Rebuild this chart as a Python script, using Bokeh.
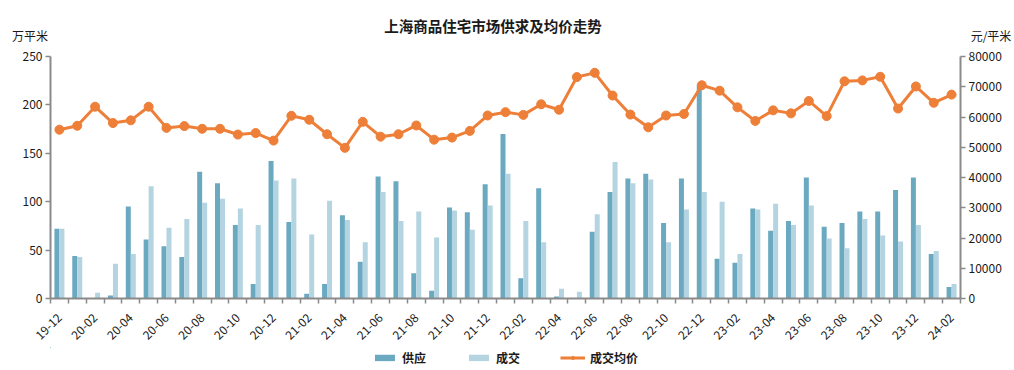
from bokeh.plotting import figure
from bokeh.models import (Range1d, LinearAxis, FixedTicker, Legend, LegendItem,
                          ColumnDataSource, Div)
from bokeh.transform import dodge
from bokeh.layouts import column
from bokeh.embed import file_html
from bokeh.resources import INLINE

months = ["19-12", "20-01", "20-02", "20-03", "20-04", "20-05", "20-06", "20-07", "20-08",
          "20-09", "20-10", "20-11", "20-12", "21-01", "21-02", "21-03", "21-04", "21-05",
          "21-06", "21-07", "21-08", "21-09", "21-10", "21-11", "21-12", "22-01", "22-02",
          "22-03", "22-04", "22-05", "22-06", "22-07", "22-08", "22-09", "22-10", "22-11",
          "22-12", "23-01", "23-02", "23-03", "23-04", "23-05", "23-06", "23-07", "23-08",
          "23-09", "23-10", "23-11", "23-12", "24-01", "24-02"]
supply = [72, 44, 0, 3, 95, 61, 54, 43, 131, 119, 76, 15, 142, 79, 5, 15, 86, 38, 126, 121,
          26, 8, 94, 89, 118, 170, 21, 114, 2, 0, 69, 110, 124, 129, 78, 124, 220, 41, 37, 93,
          70, 80, 125, 74, 78, 90, 90, 112, 125, 46, 12]
deal = [72, 43, 6, 36, 46, 116, 73, 82, 99, 103, 93, 76, 122, 124, 66, 101, 81, 58, 110, 80,
        90, 63, 91, 71, 96, 129, 80, 58, 10, 7, 87, 141, 119, 123, 58, 92, 110, 100, 46, 92,
        98, 76, 96, 62, 52, 82, 65, 59, 76, 49, 15]
price = [55800, 57100, 63400, 58000, 58900, 63400, 56400, 57000, 56100, 56100, 54200, 54700,
         52200, 60400, 59100, 54300, 49800, 58400, 53500, 54300, 57200, 52500, 53200, 55400,
         60500, 61600, 60700, 64200, 62400, 73200, 74600, 67100, 60800, 56600, 60500, 61000,
         70500, 68700, 63200, 58700, 62200, 61200, 65300, 60300, 71800, 72100, 73300, 62800,
         70100, 64700, 67400]
left_ticks = [0, 50, 100, 150, 200, 250]
right_ticks = [0, 10000, 20000, 30000, 40000, 50000, 60000, 70000, 80000]
title_text = "上海商品住宅市场供求及均价走势"
left_name = "万平米"
right_name = "元/平米"
series_names = ["供应", "成交", "成交均价"]

FONT = "Noto Sans CJK SC"
C_SUP = "#6BA9C1"
C_DEAL = "#B3D4E0"
C_PRICE = "#EE7F38"
AXIS_C = "#8A8A8A"
TXT = "#1A1A1A"

# ---------- header (title and axis names) ----------
HEAD_H = 46
def span(txt, cx, cy, size, weight):
    return ('<span style="position:absolute;left:%dpx;top:%dpx;transform:translate(-50%%,-50%%);'
            'white-space:nowrap;line-height:1;font-size:%s;font-weight:%s;color:%s;">%s</span>'
            % (cx, cy, size, weight, TXT, txt))
html = ('<div style="position:relative;width:1014px;height:%dpx;font-family:\'%s\';">' % (HEAD_H, FONT)
        + span(title_text, 493, 26, "14.5px", "bold")
        + span(left_name, 30, 36, "12px", "normal")
        + span(right_name, 991, 36, "12px", "normal")
        + '</div>')
head = Div(text=html, width=1014, height=HEAD_H, margin=0)

# ---------- main chart ----------
idx = list(range(len(months)))
src = ColumnDataSource(dict(x=idx, supply=supply, deal=deal, price=price))

BOTTOM = 80
p = figure(frame_width=910, frame_height=242, output_backend="svg", toolbar_location=None,
           x_range=Range1d(-0.5, len(months) - 0.5), y_range=Range1d(0, 250),
           min_border_left=50, min_border_right=54, min_border_top=10, min_border_bottom=BOTTOM,
           x_axis_type=None, y_axis_type=None, margin=0)
p.outline_line_color = None
p.xgrid.visible = False
p.ygrid.visible = False
p.extra_y_ranges = {"price": Range1d(0, 80000)}

p.vbar(x=dodge("x", -0.14), top="supply", width=0.28, source=src,
       fill_color=C_SUP, line_color=None)
p.vbar(x=dodge("x", 0.14), top="deal", width=0.28, source=src,
       fill_color=C_DEAL, line_color=None)
p.line(x="x", y="price", source=src, y_range_name="price", line_color=C_PRICE, line_width=3)
p.scatter(x="x", y="price", source=src, y_range_name="price", size=9,
          fill_color=C_PRICE, line_color=C_PRICE)

def style(ax):
    ax.axis_line_color = AXIS_C
    ax.axis_line_width = 2
    ax.major_tick_line_color = AXIS_C
    ax.major_tick_line_width = 1.5
    ax.minor_tick_line_color = AXIS_C
    ax.minor_tick_line_width = 1.5
    ax.major_label_text_font = FONT
    ax.major_label_text_font_size = "12px"
    ax.major_label_text_color = TXT

xax = LinearAxis()
xax.ticker = FixedTicker(ticks=idx[::2], minor_ticks=[i - 0.5 for i in range(len(months) + 1)])
xax.major_label_overrides = {i: months[i] for i in idx[::2]}
style(xax)
xax.major_tick_out = 0
xax.major_tick_in = 0
xax.minor_tick_out = 5
xax.minor_tick_in = 0
xax.major_label_standoff = 12
xax.major_label_orientation = 0.785398
p.add_layout(xax, "below")

yax = LinearAxis(ticker=FixedTicker(ticks=left_ticks, minor_ticks=[]))
style(yax)
yax.major_tick_out = 5
yax.major_tick_in = 0
yax.major_label_standoff = 3
p.add_layout(yax, "left")

rax = LinearAxis(y_range_name="price", ticker=FixedTicker(ticks=right_ticks, minor_ticks=[]))
style(rax)
rax.major_tick_out = 5
rax.major_tick_in = 0
rax.major_label_standoff = 3
p.add_layout(rax, "right")

# ---------- footer legend: same series drawn with ranges that keep them out of view ----------
FOOT_H = 20
foot = figure(frame_width=910, frame_height=FOOT_H, output_backend="svg", toolbar_location=None,
              x_range=Range1d(1000, 1001), y_range=Range1d(-1001, -1000),
              min_border_left=50, min_border_right=54, min_border_top=0, min_border_bottom=0,
              x_axis_type=None, y_axis_type=None, margin=(-31, 0, 0, 0))
foot.outline_line_color = None
foot.xgrid.visible = False
foot.ygrid.visible = False
g_sup = foot.vbar(x="x", top="supply", width=0.28, source=src,
                  fill_color=C_SUP, line_color=None)
g_deal = foot.vbar(x="x", top="deal", width=0.28, source=src,
                   fill_color=C_DEAL, line_color=None)
g_line = foot.line(x="x", y="price", source=src, line_color=C_PRICE, line_width=3)
g_pts = foot.scatter(x="x", y="price", source=src, size=9,
                     fill_color=C_PRICE, line_color=C_PRICE)
legend = Legend(items=[LegendItem(label=series_names[0], renderers=[g_sup]),
                       LegendItem(label=series_names[1], renderers=[g_deal]),
                       LegendItem(label=series_names[2], renderers=[g_line, g_pts])],
                orientation="horizontal", location="center",
                label_text_font=FONT, label_text_font_size="12px",
                label_text_font_style="bold", label_text_color=TXT,
                glyph_width=25, glyph_height=8, label_height=14, label_standoff=5,
                spacing=40, padding=0, margin=0, border_line_color=None,
                background_fill_alpha=0)
foot.add_layout(legend, "center")

layout = column(head, p, foot, spacing=0)
open("out.html", "w").write(file_html(layout, INLINE))
